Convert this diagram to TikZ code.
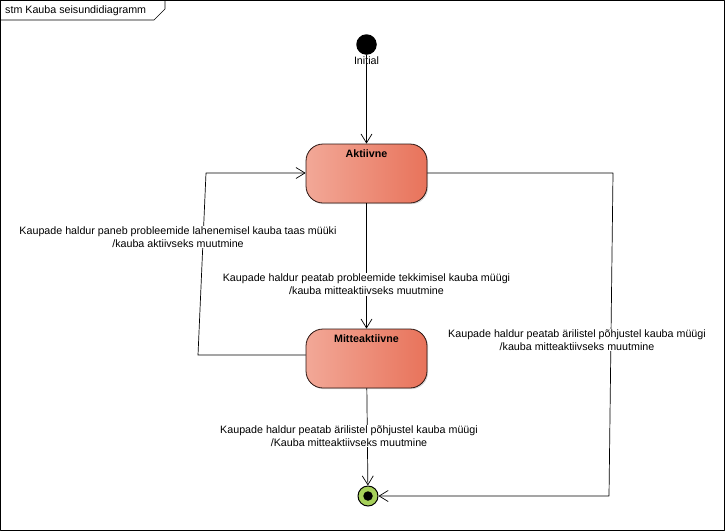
\documentclass[tikz,border=0pt]{standalone}
\usepackage{fontspec}
\setmainfont{Liberation Sans}
\usepackage{xcolor}
\usetikzlibrary{arrows.meta}
\usetikzlibrary{positioning}
\usetikzlibrary{shadows}
\definecolor{stateleft}{HTML}{F2A897}
\definecolor{stateright}{HTML}{E8735B}
\definecolor{stateborder}{HTML}{2A1410}
\definecolor{finalgreen}{HTML}{A6D05A}
\begin{document}
\begin{tikzpicture}[line cap=round,line join=round,>={Straight Barb[length=9pt,width=11pt]},x=1pt,y=-1pt,
    every node/.style={font=\fontsize{10.7}{13}\selectfont},
    state/.style={draw=stateborder,line width=0.8pt,rounded corners=17pt,left color=stateleft,right color=stateright,
      minimum width=121pt,minimum height=59pt,inner sep=0pt,
      drop shadow={shadow xshift=1.2pt,shadow yshift=-1.2pt,opacity=0.3}},
    statetitle/.style={font=\fontsize{10.7}{13}\selectfont\bfseries,inner sep=0pt},
    trans/.style={->,color=black,line width=0.7pt},
    translabel/.style={fill=white,align=center,inner sep=1pt}]
        \useasboundingbox (0,0) rectangle (725,531);
        % frame
        \draw[color=black,line width=0.8pt] (0.5,0.5) rectangle (724.5,530.5);
        \draw[color=black,line width=0.6pt] (0.5,20) -- (154,20) -- (165,9) -- (165,0.5);
        \node[anchor=west,inner sep=0pt] (frametitle) at (5,11) {stm Kauba seisundidiagramm};
        % states
        \node[circle,fill=black,minimum size=20.5pt,inner sep=0pt] (initial) at (366.5,44.5) {};
        \node[inner sep=0pt] (initiallabel) at (366.5,61) {Initial};
        \node[state] (aktiivne) at (366.5,173.5) {};
        \node[statetitle,below=6pt of aktiivne.north] (aktiivnetitle) {Aktiivne};
        \node[state] (mitteaktiivne) at (366.5,358.5) {};
        \node[statetitle,below=6pt of mitteaktiivne.north] (mitteaktiivnetitle) {Mitteaktiivne};
        \node[circle,draw=black,line width=1pt,fill=finalgreen,minimum size=20pt,inner sep=0pt] (final) at (368,496) {};
        \node[circle,fill=black,minimum size=9.5pt,inner sep=0pt] (finaldot) at (final) {};
        % bends
        \coordinate (leftbottom) at (198,355);
        \coordinate (lefttop) at (206,173);
        \coordinate (righttop) at (613,173);
        \coordinate (rightbottom) at (609,496);
        % transitions
        \draw[trans] (initial) -- (initial |- aktiivne.north);
        \draw[trans] (aktiivne) -- (mitteaktiivne)
            node[translabel,pos=0.645] (pausefirst) {Kaupade haldur peatab probleemide tekkimisel kauba müügi\\/kauba mitteaktiivseks muutmine};
        \draw[trans] (mitteaktiivne.west |- leftbottom) -- (leftbottom) -- (lefttop) -- (aktiivne.west |- lefttop);
        \node[translabel] (resume) at (178,237) {Kaupade haldur paneb probleemide lahenemisel kauba taas müüki\\/kauba aktiivseks muutmine};
        \draw[trans] (aktiivne.east |- righttop) -- (righttop) -- (rightbottom) -- (final);
        \node[translabel] (stopactive) at (577,340) {Kaupade haldur peatab ärilistel põhjustel kauba müügi\\/kauba mitteaktiivseks muutmine};
        \draw[trans] (mitteaktiivne) -- (final);
        \node[translabel] (stoppaused) at (349,436) {Kaupade haldur peatab ärilistel põhjustel kauba müügi\\/Kauba mitteaktiivseks muutmine};
      \end{tikzpicture}
\end{document}
